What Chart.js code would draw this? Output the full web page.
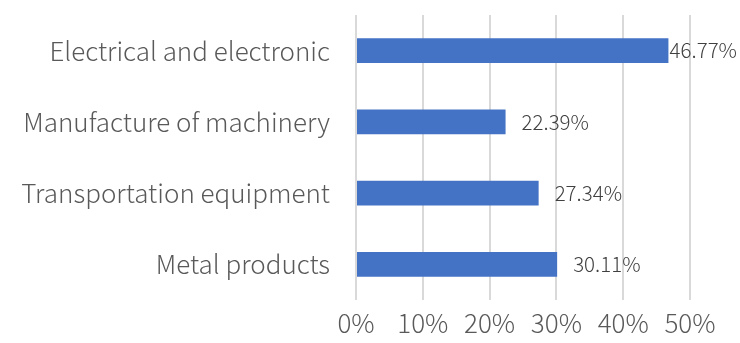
<!DOCTYPE html>
<html>
<head>
<meta charset="utf-8">
<script src="https://cdn.jsdelivr.net/npm/chart.js@4/dist/chart.umd.min.js"></script>
<style>
  html, body { margin: 0; padding: 0; background: #ffffff; }
  #wrap { width: 740px; height: 343px; position: relative; }
</style>
</head>
<body>
<div id="wrap"><canvas id="chart" width="740" height="343"></canvas></div>
<script>
// Share of output by industry (percent)
const categories = [
  'Electrical and electronic',
  'Manufacture of machinery',
  'Transportation equipment',
  'Metal products'
];
const shares = [46.77, 22.39, 27.34, 30.11];
const tickValues = [0, 10, 20, 30, 40, 50];

const FONT = '"Noto Sans CJK SC", "Noto Sans", sans-serif';
const TEXT = '#595959';

// Writes each bar's value just past its end, kept inside the canvas
const valueLabels = {
  id: 'valueLabels',
  afterDatasetsDraw(chart) {
    const { ctx } = chart;
    const meta = chart.getDatasetMeta(0);
    ctx.save();
    ctx.font = '300 20.5px ' + FONT;
    ctx.fillStyle = '#404040';
    ctx.textBaseline = 'middle';
    ctx.textAlign = 'left';
    meta.data.forEach((bar, i) => {
      const text = shares[i].toFixed(2) + '%';
      const w = ctx.measureText(text).width;
      let x = bar.x + 16;
      if (x + w > chart.width - 3) x = Math.max(bar.x, chart.width - 3 - w);
      ctx.fillText(text, x, bar.y);
    });
    ctx.restore();
  }
};

new Chart(document.getElementById('chart'), {
  type: 'bar',
  data: {
    labels: categories,
    datasets: [{
      data: shares,
      backgroundColor: '#4472C4',
      borderWidth: 0,
      categoryPercentage: 1,
      barPercentage: 0.35
    }]
  },
  options: {
    indexAxis: 'y',
    responsive: false,
    animation: false,
    layout: { padding: { top: 15, right: 50, left: 0, bottom: 0 } },
    plugins: {
      legend: { display: false },
      tooltip: { enabled: false }
    },
    scales: {
      x: {
        min: 0,
        max: 50,
        afterBuildTicks(scale) {
          scale.ticks = tickValues.map(v => ({ value: v }));
        },
        afterFit(scale) {
          scale.height = 43;
          scale.paddingLeft = 0;
          scale.paddingRight = 0;
        },
        grid: { color: '#d9d9d9', lineWidth: 2, drawTicks: false },
        border: { display: false },
        ticks: {
          color: TEXT,
          padding: 8,
          font: { family: FONT, size: 26, weight: 300 },
          callback: v => v + '%'
        }
      },
      y: {
        afterFit(scale) {
          scale.width = 356;
          scale.paddingTop = 0;
          scale.paddingBottom = 0;
        },
        grid: { display: false, drawTicks: false },
        border: { display: false },
        ticks: {
          color: TEXT,
          padding: 26,
          font: { family: FONT, size: 26, weight: 300 }
        }
      }
    }
  },
  plugins: [valueLabels]
});
</script>
</body>
</html>
